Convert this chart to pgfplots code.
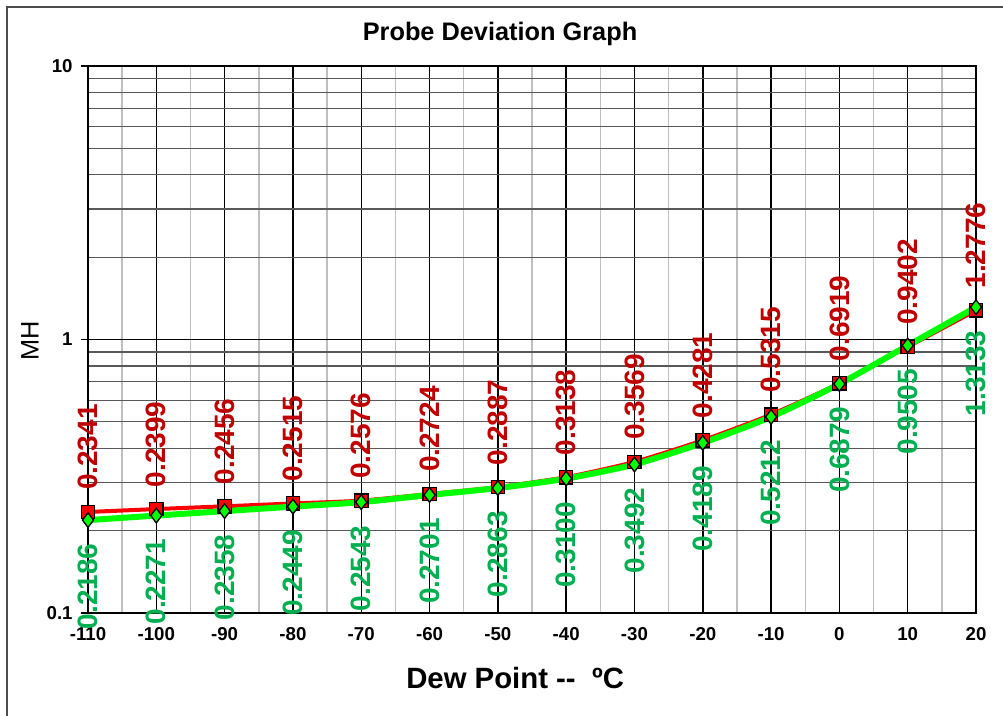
\documentclass[border=0pt]{standalone}
\usepackage{fontspec}
\setmainfont{Liberation Sans}
\usepackage{pgfplots}
\pgfplotsset{compat=1.18}
\definecolor{lblred}{HTML}{C00000}
\definecolor{lblgreen}{HTML}{00B050}
\definecolor{limeg}{HTML}{00FF00}
\begin{document}
\begin{tikzpicture}
\useasboundingbox (-66pt,-76.5pt) rectangle (686.25pt,459.75pt);
\draw[gray!60!black, line width=1pt] (-60.75pt,-80pt) -- (-60.75pt,454.5pt) -- (690pt,454.5pt);
\begin{axis}[
  at={(0,0)}, anchor=south west,
  width=666pt, height=410.25pt, scale only axis,
  xmin=-110, xmax=20, ymin=0.1, ymax=10, ymode=log,
  xtick={-110,-100,...,20}, minor x tick num=1,
  ytick={0.1,1,10}, yticklabels={0.1,1,10},
  /pgf/number format/assume math mode=true,
  grid=both,
  major x grid style={black, line width=1.1pt},
  minor x grid style={black!25, line width=1.1pt},
  major y grid style={black, line width=0.9pt},
  minor y grid style={black!65, line width=0.9pt},
  axis line style={line width=1.2pt},
  tick align=outside, tickpos=left,
  major tick length=5pt, minor tick length=0pt,
  tick style={black, line width=0.9pt},
  xtick style={draw=none},
  ticklabel style={font=\fontsize{14}{16}\selectfont\bfseries},
  xticklabel style={yshift=-2pt},
  yticklabel style={xshift=-3pt},
  clip=false,
  title={Probe Deviation Graph},
  title style={at={(axis description cs:0.464,1)}, anchor=center, yshift=18pt, font=\fontsize{19}{22}\selectfont\bfseries},
  xlabel={Dew Point -{}-\ \ ºC},
  every axis x label/.style={at={(axis description cs:0.481,0)}, anchor=center, yshift=-48.75pt, font=\fontsize{22}{26}\selectfont\bfseries},
  ylabel={MH},
  every axis y label/.style={at={(axis description cs:-0.0653,0.497)}, anchor=center, rotate=90, font=\fontsize{19}{22}\selectfont},
]
\addplot[red, line width=3pt, smooth, tension=0.4,
  mark=square*, mark size=5pt, mark options={fill=red, draw=black, line width=1pt},
  point meta=rawy,
  nodes near coords={\pgfmathprintnumber[fixed,fixed zerofill,precision=4]{\pgfplotspointmeta}},
  nodes near coords style={rotate=90, anchor=west, inner xsep=16pt, inner ysep=0pt, text=lblred, font=\fontsize{21}{23}\selectfont\bfseries}]
coordinates {
(-110,0.2341) (-100,0.2399) (-90,0.2456) (-80,0.2515) (-70,0.2576) (-60,0.2724) (-50,0.2887)
(-40,0.3138) (-30,0.3569) (-20,0.4281) (-10,0.5315) (0,0.6919) (10,0.9402) (20,1.2776)};
\addplot[limeg, line width=4.5pt, smooth, tension=0.4,
  mark=diamond*, mark size=5.5pt, mark options={fill=limeg, draw=black, line width=1pt},
  point meta=rawy,
  nodes near coords={\pgfmathprintnumber[fixed,fixed zerofill,precision=4]{\pgfplotspointmeta}},
  nodes near coords style={rotate=90, anchor=east, inner xsep=17pt, inner ysep=0pt, text=lblgreen, font=\fontsize{21}{23}\selectfont\bfseries}]
coordinates {
(-110,0.2186) (-100,0.2271) (-90,0.2358) (-80,0.2449) (-70,0.2543) (-60,0.2701) (-50,0.2863)
(-40,0.3100) (-30,0.3492) (-20,0.4189) (-10,0.5212) (0,0.6879) (10,0.9505) (20,1.3133)};
\end{axis}
\end{tikzpicture}
\end{document}
